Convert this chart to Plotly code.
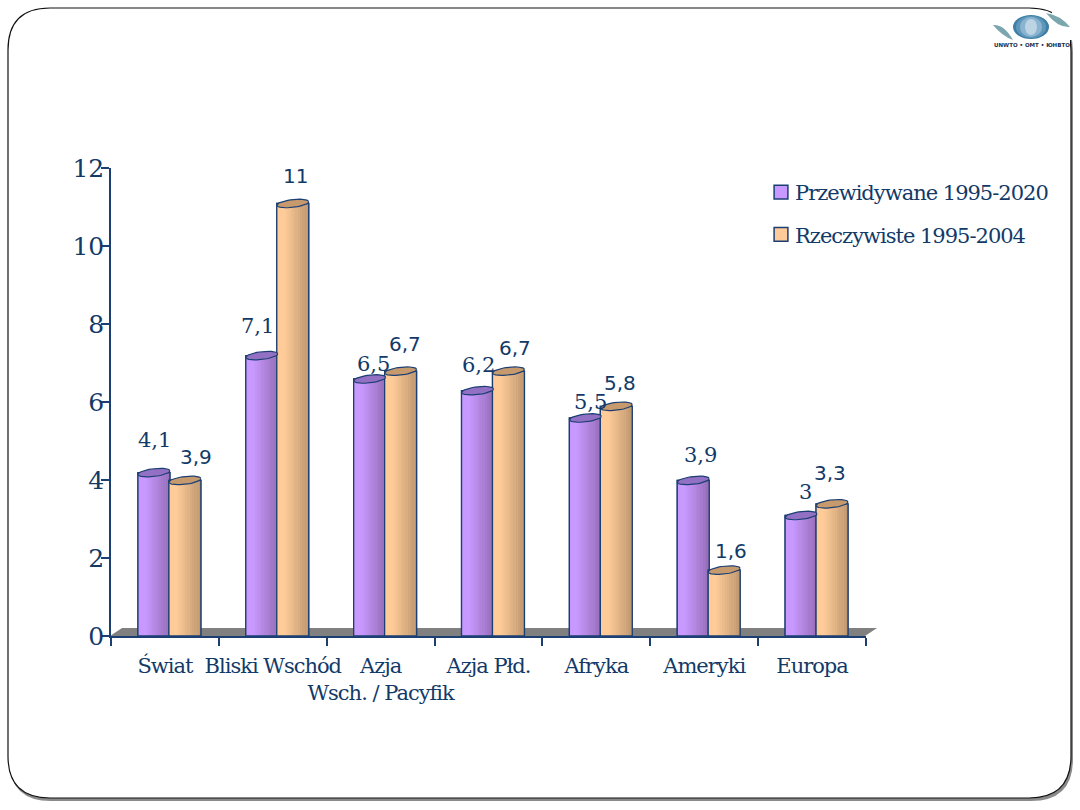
import numpy as np
import plotly.graph_objects as go

categories = ["Świat", "Bliski Wschód", "Azja<br>Wsch. / Pacyfik", "Azja Płd.", "Afryka", "Ameryki", "Europa"]
forecast = [4.1, 7.1, 6.5, 6.2, 5.5, 3.9, 3.0]
actual = [3.9, 11.0, 6.7, 6.7, 5.8, 1.6, 3.3]
y_ticks = [0, 2, 4, 6, 8, 10, 12]
series_names = ["Przewidywane 1995-2020", "Rzeczywiste 1995-2004"]

W, H = 1080, 810
NAVY = "#1c3f73"
TEXT = "#123a68"
X0, X1, Y0, Y12 = 111, 866, 636, 168


def px(x):
    return x / W


def py(y):
    return 1 - y / H


def mix(a, b, t):
    return "#" + "".join(f"{round(a[i] + (b[i] - a[i]) * t):02x}" for i in range(3))


fig = go.Figure()
idx = np.arange(len(categories))
LIFT = 0.09
BAR_W = 0.296
series = [
    (forecast, -0.25, (0xC8, 0x99, 0xFF), (0x96, 0x6E, 0xB8), "#9270c4"),
    (actual, 0.037, (0xFF, 0xCC, 0x99), (0xC0, 0x98, 0x70), "#c69a6c"),
]
BANDS = 14
for s, (vals, off, light, dark, cap) in enumerate(series):
    h = np.array(vals) + LIFT
    fig.add_bar(x=idx, y=h, width=BAR_W, offset=off, name=series_names[s],
                marker=dict(color=mix(light, light, 0), line=dict(color=NAVY, width=1.3)),
                legendgroup=f"s{s}", hoverinfo="skip")
    for b in range(BANDS):
        t = max(0, (b / (BANDS - 1) - 0.22) / 0.78)
        fig.add_bar(x=idx, y=h, width=BAR_W / BANDS + 0.002, offset=off + b * BAR_W / BANDS,
                    marker=dict(color=mix(light, dark, t), line=dict(width=0)),
                    showlegend=False, hoverinfo="skip")
    fig.add_bar(x=idx, y=h, width=BAR_W, offset=off,
                marker=dict(color="rgba(0,0,0,0)", line=dict(color=NAVY, width=1.3)),
                showlegend=False, hoverinfo="skip")
    # top caps
    th = np.linspace(0, 2 * np.pi, 41)
    cx, cy = [], []
    for i, v in zip(idx, h):
        cx += list(i + off + BAR_W / 2 + BAR_W / 2 * np.cos(th)) + [None]
        cy += list(v + 0.1 * np.sin(th) + 0.045 * np.cos(th)) + [None]
    fig.add_scatter(x=cx, y=cy, mode="lines", fill="toself", fillcolor=cap,
                    line=dict(color=NAVY, width=1.2), showlegend=False, hoverinfo="skip",
                    cliponaxis=False)

# value labels
f_dx = [1, -4, 4, 1, 5, 7, 4]
f_dy = [36, 33, 19, 29, 20, 29, 27]
a_dx = [11, 3, 4, 7, 4, 7, -2]
a_dy = [27, 31, 31, 27, 27, 23, 34]
annotations = []
for s, (vals, off, dxs, dys, fam, fs) in enumerate([
    (forecast, -0.25, f_dx, f_dy, "DejaVu Serif", 21),
    (actual, 0.037, a_dx, a_dy, "DejaVu Sans", 20),
]):
    for i, v in enumerate(vals):
        label = f"{v:g}".replace(".", ",")
        annotations.append(dict(x=i + off + BAR_W / 2, y=v, xref="x", yref="y", text=label,
                                showarrow=False, xanchor="center", yanchor="middle",
                                xshift=dxs[i], yshift=dys[i],
                                font=dict(family=fam, size=fs, color=TEXT)))
annotations.append(dict(x=px(1032), y=py(45), xref="paper", yref="paper", showarrow=False,
                        text="<b>UNWTO • OMT • ЮНВТО</b>", xanchor="center", yanchor="middle",
                        font=dict(family="DejaVu Sans", size=5.5, color="#1a2f50")))


def rrect(x0, y0, x1, y1, r):
    a, b, c, d = px(x0), py(y0), px(x1), py(y1)
    rx, ry = r / W, r / H
    return (f"M{a + rx},{b} L{c - rx},{b} Q{c},{b} {c},{b - ry} L{c},{d + ry} Q{c},{d} {c - rx},{d} "
            f"L{a + rx},{d} Q{a},{d} {a},{d + ry} L{a},{b - ry} Q{a},{b} {a + rx},{b} Z")


def poly(points):
    return "M" + " L".join(f"{px(x)},{py(y)}" for x, y in points) + " Z"


def swoosh(pts):
    a, b, c, d, e = pts
    return (f"M{px(a[0])},{py(a[1])} Q{px(b[0])},{py(b[1])} {px(c[0])},{py(c[1])} "
            f"Q{px(d[0])},{py(d[1])} {px(e[0])},{py(e[1])} Z")


P = dict(xref="paper", yref="paper", layer="below")
SW = "#7ba6ae"
shapes = [
    dict(type="path", path=rrect(9, 10, 1073, 801, 42), fillcolor="#8a8a8a", line=dict(width=0), **P),
    dict(type="path", path=rrect(8, 8, 1071, 798, 42), fillcolor="white", line=dict(color="#111111", width=1.2), **P),
    dict(type="rect", x0=px(1052), x1=px(1080), y0=py(0), y1=py(40), fillcolor="white", line=dict(width=0), **P),
    dict(type="rect", x0=px(990), x1=px(1070), y0=py(38), y1=py(52), fillcolor="white", line=dict(width=0), **P),
    dict(type="path", path=poly([(110, 636), (122, 628), (877, 628), (865, 636)]), fillcolor="#808080", line=dict(width=0), **P),
    # logo
    dict(type="path", path=swoosh([(993, 25), (1004, 24), (1013, 40), (1002, 36), (993, 25)]),
         fillcolor=SW, line=dict(width=0), **P),
    dict(type="path", path=swoosh([(1070, 27), (1058, 28), (1046, 13), (1060, 15), (1070, 27)]),
         fillcolor=SW, line=dict(width=0), **P),
]
for rx_, ry_, col in [(18, 12, "#3f7fa6"), (15, 11, "#5f97bb"), (11, 10, "#8ab4cf"), (6, 8, "#bcd4e4")]:
    shapes.append(dict(type="circle", x0=px(1031 - rx_), x1=px(1031 + rx_), y0=py(27 + ry_), y1=py(27 - ry_),
                       fillcolor=col, line=dict(width=0), **P))

fig.update_layout(
    width=W, height=H, margin=dict(l=0, r=0, t=0, b=0),
    paper_bgcolor="white", plot_bgcolor="rgba(0,0,0,0)",
    barmode="overlay", shapes=shapes, annotations=annotations, showlegend=True,
    legend=dict(x=px(755), y=py(172), xanchor="left", yanchor="top", bgcolor="rgba(0,0,0,0)",
                font=dict(family="DejaVu Serif", size=21, color=TEXT),
                traceorder="grouped", tracegroupgap=12, itemwidth=30),
    xaxis=dict(domain=[px(X0), px(X1)], range=[-0.5, 6.5], showgrid=False, zeroline=False,
               showline=True, linecolor=NAVY, linewidth=1.5, automargin=False,
               tickmode="array", tickvals=list(idx), ticktext=categories, ticks="", tickangle=0,
               ticklabelstandoff=10,
               tickfont=dict(family="DejaVu Serif", size=21, color=TEXT),
               minor=dict(tickmode="array", tickvals=list(np.arange(8) - 0.5), ticks="outside",
                          ticklen=8, tickcolor=NAVY, tickwidth=1.5, showgrid=False)),
    yaxis=dict(domain=[py(Y0), py(Y12)], range=[0, 12], showgrid=False, zeroline=False,
               showline=True, linecolor=NAVY, linewidth=1.5, automargin=False,
               tickmode="array", tickvals=y_ticks, ticks="outside", ticklen=8,
               tickcolor=NAVY, tickwidth=1.5, ticklabelstandoff=-8,
               tickfont=dict(family="DejaVu Serif", size=25, color=TEXT)),
)
post = """
document.body.style.margin='0';
var st=document.createElement('style');
st.textContent='.xtick text,.legendtext{letter-spacing:-1px}';
document.head.appendChild(st);
document.querySelectorAll('.legendsymbols').forEach(function(e){e.setAttribute('transform','translate(3,0) scale(1.15)');});
"""
fig.write_html("out.html", post_script=post, config={"displayModeBar": False})
